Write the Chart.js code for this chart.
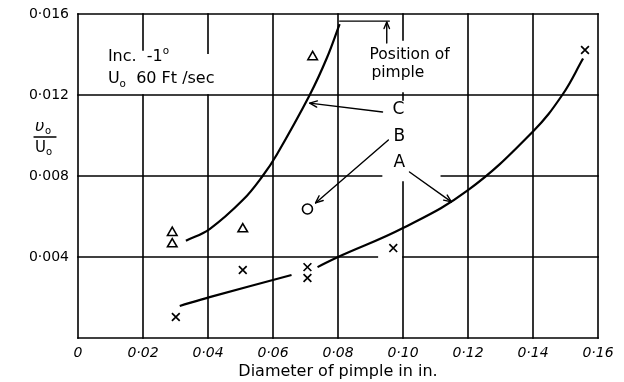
<!DOCTYPE html>
<html><head><meta charset="utf-8">
<script src="https://cdn.jsdelivr.net/npm/chart.js@4/dist/chart.umd.min.js"></script>
<style>html,body{margin:0;padding:0;background:#fff}#wrap{width:624px;height:382px;position:relative}</style>
</head><body><div id="wrap"><canvas id="c" width="624" height="382"></canvas></div>
<script>
// ---- data ----
const xTickValues = [0, 0.02, 0.04, 0.06, 0.08, 0.10, 0.12, 0.14, 0.16];
const xTickLabels = ['0', '0·02', '0·04', '0·06', '0·08', '0·10', '0·12', '0·14', '0·16'];
const yTickValues = [0, 0.004, 0.008, 0.012, 0.016];
const yTickLabels = ['', '0·004', '0·008', '0·012', '0·016'];

const triangleX = [0.029, 0.029, 0.0507, 0.0722];
const triangleY = [0.0052, 0.00464, 0.00538, 0.01388];

const crossX = [0.0301, 0.0507, 0.0706, 0.0706, 0.097, 0.156];
const crossY = [0.00104, 0.00336, 0.0035, 0.00296, 0.00444, 0.01422];

const circleX = [0.0706];
const circleY = [0.00637];

const curveCX = [0.0332, 0.0405, 0.0507, 0.0568, 0.0611, 0.0713, 0.0765, 0.0805];
const curveCY = [0.0048, 0.00538, 0.00681, 0.008, 0.00904, 0.012, 0.0138, 0.0155];

const curveA1X = [0.0313, 0.0405, 0.0657];
const curveA1Y = [0.00158, 0.00202, 0.00311];
const curveA2X = [0.0737, 0.08, 0.10, 0.12, 0.14, 0.149, 0.1554];
const curveA2Y = [0.0035, 0.004, 0.00543, 0.0073, 0.0102, 0.012, 0.0138];

const pts = (xs, ys) => xs.map((x, i) => ({x, y: ys[i]}));

const FONT = '"DejaVu Sans", sans-serif';

// ---- grid with the gaps of the original drawing (data units) ----
const vGrid = [
  {x: 0.00, segs: [[0, 0.016]]},
  {x: 0.02, segs: [[0.01422, 0.016], [0, 0.012]]},
  {x: 0.04, segs: [[0.01407, 0.016], [0, 0.012]]},
  {x: 0.06, segs: [[0, 0.016]]},
  {x: 0.08, segs: [[0, 0.016]]},
  {x: 0.10, segs: [[0.01472, 0.016], [0.01175, 0.0121], [0, 0.0077]]},
  {x: 0.12, segs: [[0, 0.016]]},
  {x: 0.14, segs: [[0, 0.016]]},
  {x: 0.16, segs: [[0, 0.016]]}
];
const hGrid = [
  {y: 0.000, segs: [[0, 0.16]]},
  {y: 0.004, segs: [[0, 0.0921], [0.1, 0.16]]},
  {y: 0.008, segs: [[0, 0.0934], [0.1118, 0.16]]},
  {y: 0.012, segs: [[0, 0.16]]},
  {y: 0.016, segs: [[0, 0.16]]}
];

function arrowHead(ctx, x0, y0, x1, y1, len) {
  const a = Math.atan2(y1 - y0, x1 - x0);
  ctx.beginPath();
  ctx.moveTo(x1 - len * Math.cos(a - 0.4), y1 - len * Math.sin(a - 0.4));
  ctx.lineTo(x1, y1);
  ctx.lineTo(x1 - len * Math.cos(a + 0.4), y1 - len * Math.sin(a + 0.4));
  ctx.stroke();
}

function subText(ctx, parts, x, y, size) {
  let cx = x;
  for (const [t, kind] of parts) {
    const s = kind === 'n' ? size : size * 0.65;
    ctx.font = s + 'px ' + FONT;
    const dy = kind === 'sub' ? size * 0.35 : kind === 'sup' ? -size * 0.35 : 0;
    ctx.fillText(t, cx, y + dy);
    cx += ctx.measureText(t).width;
  }
}

const drawPlugin = {
  id: 'drawing',
  beforeDatasetsDraw(chart) {
    const {ctx, scales: {x, y}} = chart;
    ctx.save();
    ctx.strokeStyle = '#000';
    ctx.lineWidth = 1.6;
    ctx.lineCap = 'square';
    for (const g of vGrid) {
      const px = x.getPixelForValue(g.x);
      for (const [a, b] of g.segs) {
        ctx.beginPath();
        ctx.moveTo(px, y.getPixelForValue(a));
        ctx.lineTo(px, y.getPixelForValue(b));
        ctx.stroke();
      }
    }
    for (const g of hGrid) {
      const py = y.getPixelForValue(g.y);
      for (const [a, b] of g.segs) {
        ctx.beginPath();
        ctx.moveTo(x.getPixelForValue(a), py);
        ctx.lineTo(x.getPixelForValue(b), py);
        ctx.stroke();
      }
    }
    ctx.restore();
  },
  afterDatasetsDraw(chart) {
    const {ctx, scales: {x, y}, chartArea} = chart;
    const X = v => x.getPixelForValue(v), Y = v => y.getPixelForValue(v);
    ctx.save();
    ctx.strokeStyle = '#000';
    ctx.fillStyle = '#000';
    ctx.lineWidth = 1.4;
    ctx.lineCap = 'round';
    ctx.lineJoin = 'round';

    // position of pimple marker
    ctx.beginPath();
    ctx.moveTo(X(0.0805), Y(0.01565));
    ctx.lineTo(X(0.0958), Y(0.01565));
    ctx.stroke();
    ctx.beginPath();
    ctx.moveTo(X(0.0950), Y(0.01457));
    ctx.lineTo(X(0.0950), Y(0.0156));
    ctx.stroke();
    arrowHead(ctx, X(0.0950), Y(0.01457), X(0.0950), Y(0.0156), 7);

    // label arrows
    const arrows = [
      [0.0937, 0.01116, 0.0713, 0.0116],
      [0.0955, 0.00978, 0.0731, 0.00667],
      [0.1020, 0.0082, 0.1149, 0.00672]
    ];
    for (const [a, b, c, d] of arrows) {
      ctx.beginPath();
      ctx.moveTo(X(a), Y(b));
      ctx.lineTo(X(c), Y(d));
      ctx.stroke();
      arrowHead(ctx, X(a), Y(b), X(c), Y(d), 8);
    }

    // letters
    ctx.textAlign = 'center';
    ctx.textBaseline = 'middle';
    ctx.font = '17px ' + FONT;
    ctx.fillText('C', X(0.0986), Y(0.01126));
    ctx.fillText('B', X(0.0989), Y(0.00993));
    ctx.fillText('A', X(0.0989), Y(0.00864));

    // text blocks
    ctx.textAlign = 'left';
    ctx.font = '15.5px ' + FONT;
    ctx.fillText('Position of', X(0.0897), Y(0.01398));
    ctx.fillText('pimple', X(0.0903), Y(0.01309));

    subText(ctx, [['Inc.  -1', 'n'], ['o', 'sup']], X(0.0092), Y(0.01388), 16);
    subText(ctx, [['U', 'n'], ['o', 'sub'], ['  60 Ft /sec', 'n']], X(0.0092), Y(0.01279), 16);

    // y axis title (fraction)
    const cx = chartArea.left - 33;
    ctx.lineWidth = 1.3;
    ctx.beginPath();
    ctx.moveTo(cx - 11, 137);
    ctx.lineTo(cx + 11, 137);
    ctx.stroke();
    ctx.textAlign = 'left';
    ctx.font = 'italic 16px ' + FONT;
    ctx.fillText('υ', cx - 10, 127);
    ctx.font = '10px ' + FONT;
    ctx.fillText('o', cx + 0, 131);
    ctx.font = '15px ' + FONT;
    ctx.fillText('U', cx - 10, 148);
    ctx.font = '10px ' + FONT;
    ctx.fillText('o', cx + 1, 152);

    // x axis title
    ctx.textAlign = 'center';
    ctx.font = '16px ' + FONT;
    ctx.fillText('Diameter of pimple in in.', 338, 372);
    ctx.restore();
  }
};

const curveStyle = {showLine: true, borderColor: '#000', borderWidth: 2.2,
  pointRadius: 0, tension: 0.4, fill: false};

new Chart(document.getElementById('c'), {
  type: 'scatter',
  data: {
    datasets: [
      Object.assign({data: pts(curveCX, curveCY)}, curveStyle),
      Object.assign({data: pts(curveA1X, curveA1Y)}, curveStyle),
      Object.assign({data: pts(curveA2X, curveA2Y)}, curveStyle),
      {data: pts(triangleX, triangleY), pointStyle: 'triangle', pointRadius: 5.5,
        borderColor: '#000', backgroundColor: '#fff', pointBorderWidth: 1.6},
      {data: pts(crossX, crossY), pointStyle: 'crossRot', pointRadius: 5.5,
        borderColor: '#000', pointBorderWidth: 1.7},
      {data: pts(circleX, circleY), pointStyle: 'circle', pointRadius: 5,
        borderColor: '#000', backgroundColor: '#fff', pointBorderWidth: 1.6}
    ]
  },
  options: {
    responsive: false,
    animation: false,
    devicePixelRatio: 1,
    layout: {padding: {top: 14, right: 26, left: 0, bottom: 0}},
    plugins: {legend: {display: false}, tooltip: {enabled: false}},
    scales: {
      x: {
        type: 'linear', min: 0, max: 0.16,
        afterBuildTicks: s => { s.ticks = xTickValues.map(v => ({value: v})); },
        ticks: {
          padding: 7, color: '#000', maxRotation: 0, autoSkip: false,
          font: {family: FONT, size: 14, style: 'italic'},
          callback: (v, i) => xTickLabels[i]
        },
        grid: {display: false, drawTicks: false, tickLength: 0},
        border: {display: false},
        afterFit: s => { s.height = 44; }
      },
      y: {
        type: 'linear', min: 0, max: 0.016,
        afterBuildTicks: s => { s.ticks = yTickValues.map(v => ({value: v})); },
        ticks: {
          padding: 9, color: '#000', autoSkip: false,
          font: {family: FONT, size: 14, lineHeight: 1},
          callback: (v, i) => yTickLabels[i]
        },
        grid: {display: false, drawTicks: false, tickLength: 0},
        border: {display: false},
        afterFit: s => { s.width = 78; s.paddingTop = 0; s.paddingBottom = 0; }
      }
    }
  },
  plugins: [drawPlugin]
});
</script>
</body></html>
